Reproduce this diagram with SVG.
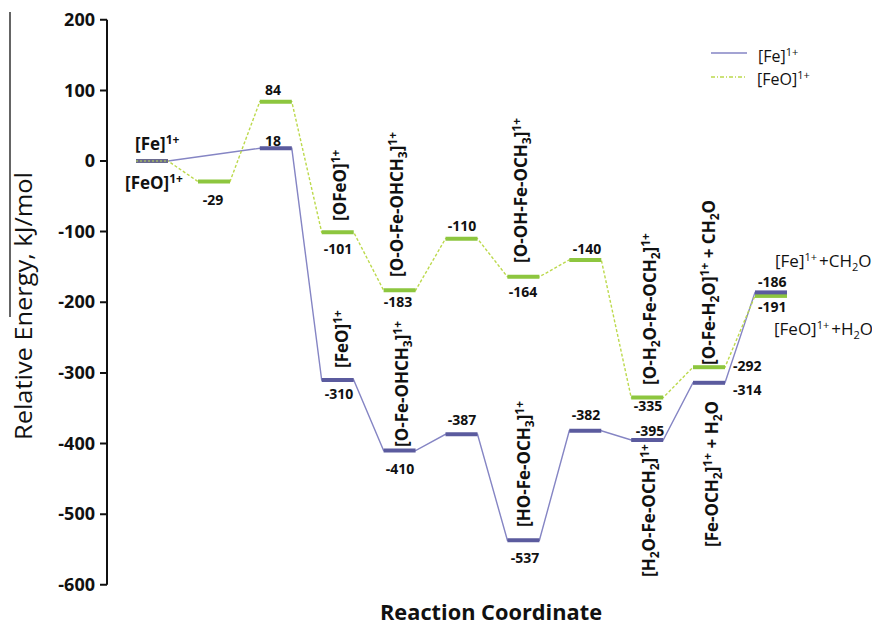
<svg xmlns="http://www.w3.org/2000/svg" width="872" height="625" viewBox="0 0 872 625">
<style>
text{font-family:"Open Sans","Liberation Sans",sans-serif;fill:#111}
.tick{font-size:18px;font-weight:bold;text-anchor:end}
.num{font-size:14px;font-weight:bold;text-anchor:middle}
.numl{font-size:14px;font-weight:bold}
.lab{font-size:17px;font-weight:bold}
.lab .s{font-size:12px}
.reg{font-size:17px}
.leg{font-size:16px}
.s{font-size:11px}
.fe{stroke:#5b5b9e;stroke-width:4;fill:none}
.feo{stroke:#8dc63f;stroke-width:4;fill:none}
.cfe{stroke:#8585c4;stroke-width:1.4;fill:none}
.cfeo{stroke:#bcd94c;stroke-width:1.4;fill:none;stroke-dasharray:3 2}
.axis{stroke:#111;stroke-width:2;fill:none}
</style>
<rect width="872" height="625" fill="#fff"/>
<g id="axes">
<line x1="10" y1="12" x2="10" y2="317" stroke="#111" stroke-width="1.3"/>
<line class="axis" x1="107" y1="19.7" x2="107" y2="584.8"/>
<path class="axis" d="M100 19.7H107M100 90.4H107M100 161H107M100 231.6H107M100 302.3H107M100 372.9H107M100 443.5H107M100 514.2H107M100 584.8H107"/>
<text class="tick" x="95" y="26">200</text>
<text class="tick" x="95" y="96.5">100</text>
<text class="tick" x="95" y="167">0</text>
<text class="tick" x="95" y="237.5">-100</text>
<text class="tick" x="95" y="308">-200</text>
<text class="tick" x="95" y="379">-300</text>
<text class="tick" x="95" y="449.5">-400</text>
<text class="tick" x="95" y="520">-500</text>
<text class="tick" x="95" y="591">-600</text>
<text transform="translate(32,440) rotate(-90)" font-size="24" textLength="268" lengthAdjust="spacingAndGlyphs">Relative Energy, kJ/mol</text>
<text x="380" y="620" font-size="21" font-weight="bold" textLength="222" lengthAdjust="spacingAndGlyphs">Reaction Coordinate</text>
</g>
<g id="legend">
<line x1="711" y1="53" x2="747" y2="53" stroke="#8585c4" stroke-width="1.5"/>
<text class="leg" x="758" y="62">[Fe]<tspan class="s" dy="-6">1+</tspan></text>
<line x1="711" y1="77" x2="745" y2="77" stroke="#bcd94c" stroke-width="1.5" stroke-dasharray="4 2 1 2"/>
<text class="leg" x="757" y="85">[FeO]<tspan class="s" dy="-6">1+</tspan></text>
</g>
<g id="connectors">
<polyline class="cfe" points="136,161 168,161 259.8,148.3 291.8,148.3 321.7,380 353.7,380 383.6,450.6 415.6,450.6 445.5,434.3 477.5,434.3 507.4,540.3 539.4,540.3 569.3,430.8 601.3,430.8 631.2,440 663.2,440 693,382.8 725,382.8 755,292.4 787,292.4"/>
<polyline class="cfeo" points="136,161 168,161 198,181.5 230,181.5 259.8,101.7 291.8,101.7 321.7,232.3 353.7,232.3 383.6,290.3 415.6,290.3 445.5,238.7 477.5,238.7 507.4,276.8 539.4,276.8 569.3,259.9 601.3,259.9 631.2,397.6 663.2,397.6 693,367.2 725,367.2 755,295.9 787,295.9"/>
</g>
<g id="start">
<line x1="136" y1="161" x2="168" y2="161" stroke="#6a6a8e" stroke-width="4"/>
<line x1="136" y1="161" x2="168" y2="161" stroke="#bcd94c" stroke-width="1.2" stroke-dasharray="2 2"/>
<text class="lab" x="135" y="150" font-size="16">[Fe]<tspan class="s" dy="-6">1+</tspan></text>
<text class="lab" x="125" y="189" font-size="16">[FeO]<tspan class="s" dy="-6">1+</tspan></text>
</g>
<g id="feo-1"><line class="feo" x1="198" y1="181.5" x2="230" y2="181.5"/><text class="num" x="213" y="205">-29</text></g>
<g id="feo-2"><line class="feo" x1="259.8" y1="101.7" x2="291.8" y2="101.7"/><text class="num" x="273" y="95">84</text></g>
<g id="fe-2"><line class="fe" x1="259.8" y1="148.3" x2="291.8" y2="148.3"/><text class="num" x="273" y="146">18</text></g>
<g id="feo-3"><line class="feo" x1="321.7" y1="232.3" x2="353.7" y2="232.3"/><text class="num" x="338" y="254">-101</text>
<text class="lab" transform="translate(346,221) rotate(-90)">[OFeO]<tspan class="s" dy="-6">1+</tspan></text></g>
<g id="feo-4"><line class="feo" x1="383.6" y1="290.3" x2="415.6" y2="290.3"/><text class="num" x="398" y="307">-183</text>
<text class="lab" transform="translate(403,277) rotate(-90)">[O-O-Fe-OHCH<tspan class="s" dy="4">3</tspan><tspan dy="-4">]</tspan><tspan class="s" dy="-6">1+</tspan></text></g>
<g id="feo-5"><line class="feo" x1="445.5" y1="238.7" x2="477.5" y2="238.7"/><text class="num" x="462" y="231">-110</text></g>
<g id="feo-6"><line class="feo" x1="507.4" y1="276.8" x2="539.4" y2="276.8"/><text class="num" x="523" y="297">-164</text>
<text class="lab" transform="translate(527,263) rotate(-90)">[O-OH-Fe-OCH<tspan class="s" dy="4">3</tspan><tspan dy="-4">]</tspan><tspan class="s" dy="-6">1+</tspan></text></g>
<g id="feo-7"><line class="feo" x1="569.3" y1="259.9" x2="601.3" y2="259.9"/><text class="num" x="587" y="254">-140</text></g>
<g id="feo-8"><line class="feo" x1="631.2" y1="397.6" x2="663.2" y2="397.6"/><text class="num" x="648" y="411">-335</text>
<text class="lab" transform="translate(656,385) rotate(-90)">[O-H<tspan class="s" dy="4">2</tspan><tspan dy="-4">O-Fe-OCH</tspan><tspan class="s" dy="4">2</tspan><tspan dy="-4">]</tspan><tspan class="s" dy="-6">1+</tspan></text></g>
<g id="feo-9"><line class="feo" x1="693" y1="367.2" x2="725" y2="367.2"/><text class="numl" x="733" y="371">-292</text>
<text class="lab" transform="translate(715,365) rotate(-90)">[O-Fe-H<tspan class="s" dy="4">2</tspan><tspan dy="-4">O]</tspan><tspan class="s" dy="-6">1+</tspan><tspan dy="6"> + CH</tspan><tspan class="s" dy="4">2</tspan><tspan dy="-4">O</tspan></text></g>
<g id="feo-10"><line class="feo" x1="755" y1="295.9" x2="787" y2="295.9"/><text class="numl" x="758" y="312">-191</text>
<text class="reg" x="774" y="335">[FeO]<tspan class="s" dy="-6">1+</tspan><tspan dy="6" dx="2">+H</tspan><tspan class="s" dy="4">2</tspan><tspan dy="-4">O</tspan></text></g>
<g id="fe-3"><line class="fe" x1="321.7" y1="380" x2="353.7" y2="380"/><text class="num" x="339" y="399">-310</text>
<text class="lab" transform="translate(348,368) rotate(-90)">[FeO]<tspan class="s" dy="-6">1+</tspan></text></g>
<g id="fe-4"><line class="fe" x1="383.6" y1="450.6" x2="415.6" y2="450.6"/><text class="num" x="400" y="474">-410</text>
<text class="lab" transform="translate(408,447) rotate(-90)">[O-Fe-OHCH<tspan class="s" dy="4">3</tspan><tspan dy="-4">]</tspan><tspan class="s" dy="-6">1+</tspan></text></g>
<g id="fe-5"><line class="fe" x1="445.5" y1="434.3" x2="477.5" y2="434.3"/><text class="num" x="462" y="425">-387</text></g>
<g id="fe-6"><line class="fe" x1="507.4" y1="540.3" x2="539.4" y2="540.3"/><text class="num" x="525" y="563">-537</text>
<text class="lab" transform="translate(530,527) rotate(-90)">[HO-Fe-OCH<tspan class="s" dy="4">3</tspan><tspan dy="-4">]</tspan><tspan class="s" dy="-6">1+</tspan></text></g>
<g id="fe-7"><line class="fe" x1="569.3" y1="430.8" x2="601.3" y2="430.8"/><text class="num" x="586" y="420">-382</text></g>
<g id="fe-8"><line class="fe" x1="631.2" y1="440" x2="663.2" y2="440"/><text class="num" x="650" y="436">-395</text>
<text class="lab" transform="translate(655,577) rotate(-90)">[H<tspan class="s" dy="4">2</tspan><tspan dy="-4">O-Fe-OCH</tspan><tspan class="s" dy="4">2</tspan><tspan dy="-4">]</tspan><tspan class="s" dy="-6">1+</tspan></text></g>
<g id="fe-9"><line class="fe" x1="693" y1="382.8" x2="725" y2="382.8"/><text class="numl" x="733" y="395">-314</text>
<text class="lab" transform="translate(718,547) rotate(-90)">[Fe-OCH<tspan class="s" dy="4">2</tspan><tspan dy="-4">]</tspan><tspan class="s" dy="-6">1+</tspan><tspan dy="6"> + H</tspan><tspan class="s" dy="4">2</tspan><tspan dy="-4">O</tspan></text></g>
<g id="fe-10"><line class="fe" x1="755" y1="292.4" x2="787" y2="292.4"/><text class="numl" x="758" y="287">-186</text>
<text class="reg" x="775" y="267">[Fe]<tspan class="s" dy="-6">1+</tspan><tspan dy="6" dx="2">+CH</tspan><tspan class="s" dy="4">2</tspan><tspan dy="-4">O</tspan></text></g>
</svg>
